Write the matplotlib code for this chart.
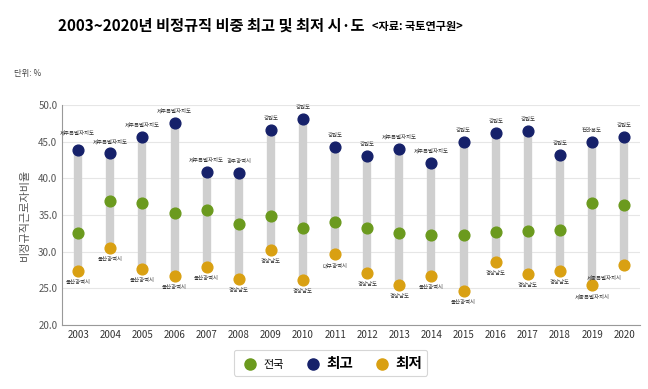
import matplotlib
matplotlib.use("Agg")
from matplotlib import pyplot as plt
from matplotlib.lines import Line2D

plt.rcParams['font.family'] = ['Noto Sans CJK KR', 'DejaVu Sans']

years = list(range(2003, 2021))
national = [32.6, 36.9, 36.6, 35.3, 35.7, 33.7, 34.8, 33.2, 34.1, 33.2,
            32.5, 32.2, 32.3, 32.7, 32.8, 32.9, 36.6, 36.4]
highest = [43.8, 43.4, 45.7, 47.6, 40.9, 40.7, 46.6, 48.1, 44.3, 43.0,
           44.0, 42.1, 44.9, 46.2, 46.4, 43.2, 45.0, 45.7]
lowest = [27.3, 30.5, 27.6, 26.7, 27.9, 26.2, 30.2, 26.1, 29.7, 27.1,
          25.4, 26.6, 24.6, 28.6, 27.0, 27.4, 25.4, 28.1]
high_region = ['제주특별자치도'] * 5 + ['광주광역시', '강원도', '강원도', '강원도', '강원도',
               '제주특별자치도', '제주특별자치도', '강원도', '강원도', '강원도', '강원도',
               '전라북도', '강원도']
low_region = ['울산광역시'] * 5 + ['경상남도', '경상남도', '경상남도', '대구광역시', '경상남도',
              '경상남도', '울산광역시', '울산광역시', '경상남도', '경상남도', '경상남도',
              '세종특별자치시', '세종특별자치시']

c_nat = '#6b9a1e'
c_high = '#16216a'
c_low = '#d9a012'
c_bar = '#cfcfcf'

fig = plt.figure(figsize=(6.48, 3.89), dpi=100)
ax = fig.add_axes([0.096, 0.165, 0.892, 0.565])

ax.vlines(years, lowest, highest, color=c_bar, linewidth=6, zorder=1)
ax.scatter(years, highest, s=60, color=c_high, zorder=3)
ax.scatter(years, national, s=60, color=c_nat, zorder=3)
ax.scatter(years, lowest, s=60, color=c_low, zorder=3)

for i, (x, y, t) in enumerate(zip(years, highest, high_region)):
    dx, dy = (-1, 11) if i == 0 else (0, 6.5)
    ax.annotate(t, (x, y), xytext=(dx, dy), textcoords='offset points',
                ha='center', va='bottom', fontsize=3.9, color='#333333')
for i, (x, y, t) in enumerate(zip(years, lowest, low_region)):
    dx = -14 if i == len(years) - 1 else 0
    ax.annotate(t, (x, y), xytext=(dx, -6.5), textcoords='offset points',
                ha='center', va='top', fontsize=3.9, color='#333333')

ax.set_xlim(2002.5, 2020.5)
ax.set_ylim(20, 50)
ax.set_yticks([20, 25, 30, 35, 40, 45, 50])
ax.set_yticklabels(['%.1f' % v for v in [20, 25, 30, 35, 40, 45, 50]])
ax.set_xticks(years)
ax.tick_params(axis='both', length=0, labelsize=7, colors='#333333')
ax.tick_params(axis='y', labelcolor='#555555')
ax.grid(axis='y', color='#e6e6e6', linewidth=0.8, zorder=0)
ax.set_axisbelow(True)
for s in ['top', 'right']:
    ax.spines[s].set_visible(False)
for s in ['left', 'bottom']:
    ax.spines[s].set_color('#999999')
    ax.spines[s].set_linewidth(0.8)
ax.set_ylabel('비정규직근로자비율', fontsize=8, color='#555555', labelpad=6)

fig.text(0.09, 0.935, '2003~2020년 비정규직 비중 최고 및 최저 시·도', fontsize=11,
         fontweight='bold', ha='left', va='center')
fig.text(0.574, 0.932, '<자료: 국토연구원>', fontsize=8, fontweight='bold',
         ha='left', va='center')
fig.text(0.022, 0.81, '단위: %', fontsize=6, color='#444444', ha='left', va='center')

handles = [Line2D([], [], marker='o', linestyle='', markersize=8, color=c) for c in (c_nat, c_high, c_low)]
leg = fig.legend(handles, ['전국', '최고', '최저'], loc='center', bbox_to_anchor=(0.51, 0.068),
                 ncol=3, frameon=True, fontsize=8, handletextpad=0.2, columnspacing=1.6,
                 borderpad=0.45, fancybox=True)
leg.get_frame().set_edgecolor('#cccccc')
leg.get_frame().set_linewidth(0.8)
texts = leg.get_texts()
for t in texts[1:]:
    t.set_fontsize(10.5)
    t.set_fontweight('bold')

fig.savefig('out.png', dpi=100)
